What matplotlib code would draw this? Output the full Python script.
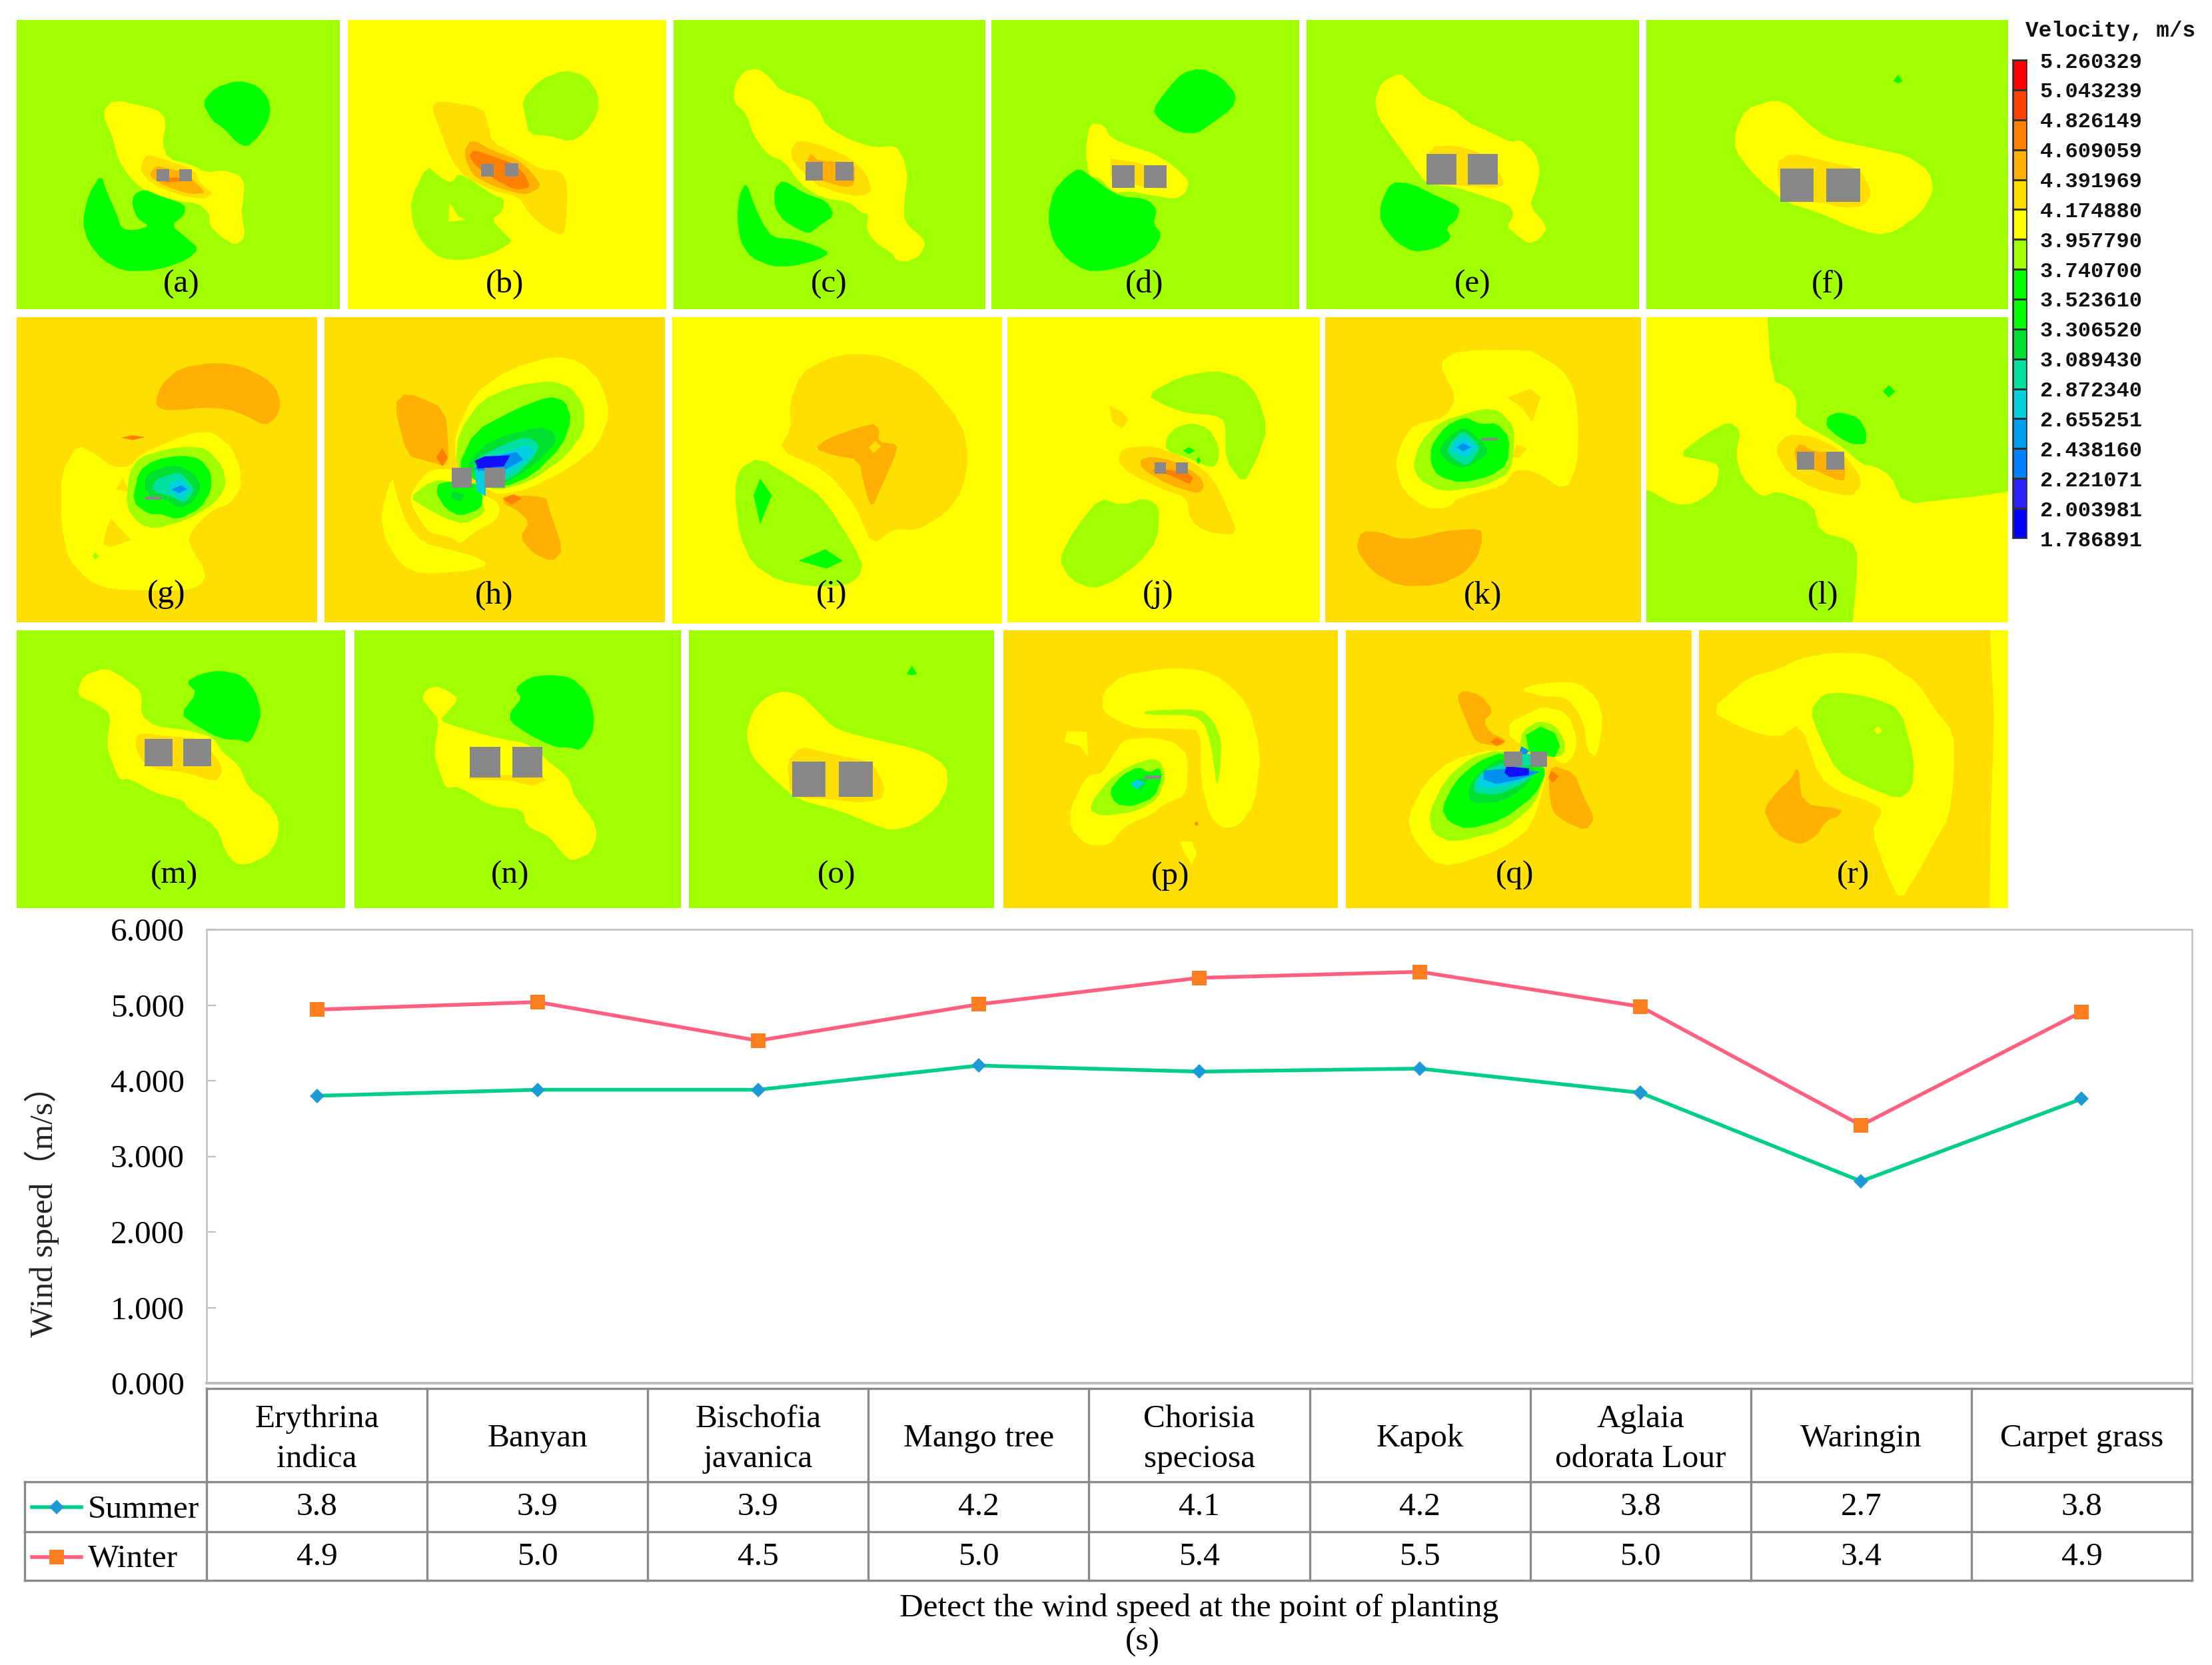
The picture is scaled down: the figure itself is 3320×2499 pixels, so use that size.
import numpy as np
import matplotlib
matplotlib.use("Agg")
import matplotlib.pyplot as plt
from matplotlib.colors import ListedColormap, BoundaryNorm
from matplotlib.lines import Line2D
from matplotlib.patches import Polygon, Rectangle

W, H = 3320, 2499
SERIF = ['Liberation Serif', 'Noto Sans CJK SC', 'DejaVu Sans']
TEXT_SIZE = 35.6

# ------------------------- line chart values -------------------------
categories = ['Erythrina\nindica', 'Banyan', 'Bischofia\njavanica', 'Mango tree',
              'Chorisia\nspeciosa', 'Kapok', 'Aglaia\nodorata Lour', 'Waringin', 'Carpet grass']
summer = [3.80, 3.88, 3.88, 4.20, 4.12, 4.16, 3.84, 2.67, 3.76]
winter = [4.94, 5.04, 4.53, 5.01, 5.36, 5.44, 4.98, 3.41, 4.91]
summer_labels = ['3.8', '3.9', '3.9', '4.2', '4.1', '4.2', '3.8', '2.7', '3.8']
winter_labels = ['4.9', '5.0', '4.5', '5.0', '5.4', '5.5', '5.0', '3.4', '4.9']
yticks = [0, 1, 2, 3, 4, 5, 6]

# ------------------------- colour scale -------------------------
levels = [1.786891, 2.003981, 2.221071, 2.438160, 2.655251, 2.872340, 3.089430, 3.306520,
          3.523610, 3.740700, 3.957790, 4.174880, 4.391969, 4.609059, 4.826149, 5.043239, 5.260329]
level_labels = ['%.6f' % v for v in levels]
level_colors = ['#0000FF', '#2C20FF', '#0080FF', '#00A0F0', '#00D0E0', '#00E0A0', '#00E030', '#00FF00',
                '#00FF00', '#A0FF00', '#FFFF00', '#FFDF00', '#FFB000', '#FF8000', '#FF4000', '#FF0000']

L, Y, G, A, O = '#A0FF00', '#FFFF00', '#FFDF00', '#FFB000', '#FF8000'
N, T, C, CY, B, BL = '#00FF00', '#00E030', '#00E0A0', '#00D0E0', '#0090F0', '#1010FF'
GRAY = '#888888'

# ------------------------- contour regions, per panel, panel units -------------------------
PANEL_A = [
 (Y, [(160,447),(220,490),(232,520),(235,570),(230,640),(238,715),(275,745),(290,775),(318,767),(340,790),(347,830),(345,900),(342,950),(348,1065),(335,1105),(315,1070),(297,1015),(297,960),(280,915),(250,905),(205,860),(182,790),(168,720),(160,620),(145,510)]),
 (G, [(208,692),(235,720),(275,765),(285,830),(303,870),(290,897),(255,880),(215,830),(197,760)]),
 (A, [(222,745),(240,760),(262,775),(280,830),(292,868),(270,875),(235,840),(210,790)]),
 (O, [(225,780),(240,800),(255,800),(260,815),(235,822)]),
 (N, [(337,362),(365,385),(380,440),(384,500),(378,560),(365,620),(350,662),(335,640),(320,585),(300,540),(287,460),(305,395)]),
 (N, [(143,785),(152,870),(165,960),(172,1030),(190,1038),(212,1018),(195,985),(187,920),(190,875),(205,852),(225,880),(262,920),(262,965),(243,1015),(262,1065),(282,1120),(265,1170),(235,1205),(210,1220),(175,1220),(145,1170),(125,1090),(117,1000),(125,880)]),
]
BLOCKS_A = [(222,762,240,815),(254,762,272,815)]

PANEL_B = [
 (L, [(800,315),(830,340),(848,420),(848,510),(830,600),(808,638),(780,612),(750,605),(745,530),(740,450),(765,360)]),
 (L, [(605,745),(625,800),(640,825),(650,780),(670,815),(700,880),(715,895),(713,950),(697,990),(715,1050),(727,1088),(700,1140),(660,1172),(625,1165),(600,1100),(585,1010),(582,900)]),
 (Y, [(637,910),(650,975),(660,990),(636,998)]),
 (G, [(620,452),(685,485),(692,560),(698,640),(740,710),(765,760),(795,770),(805,830),(802,1040),(793,1060),(770,1020),(750,960),(735,885),(700,860),(660,800),(640,720),(628,620),(612,490)]),
 (A, [(668,625),(700,680),(735,720),(755,780),(768,840),(745,880),(700,840),(670,790),(657,690)]),
 (O, [(672,675),(695,700),(730,740),(745,790),(752,845),(730,855),(700,805),(675,750),(665,700)]),
]
BLOCKS_B = [(682,738,700,796),(716,735,735,796)]

PANEL_C = [
 (Y, [(1075,308),(1092,350),(1105,405),(1148,450),(1160,490),(1172,570),(1205,630),(1240,665),(1270,655),(1282,720),(1287,800),(1282,900),(1282,1000),(1313,1085),(1305,1150),(1285,1180),(1270,1170),(1265,1140),(1240,1090),(1228,1030),(1232,965),(1220,955),(1205,910),(1165,890),(1135,830),(1112,725),(1090,700),(1070,620),(1058,510),(1040,460),(1042,380),(1055,320)]),
 (G, [(1132,628),(1170,660),(1205,710),(1228,780),(1237,860),(1220,885),(1190,870),(1155,830),(1125,730),(1120,680)]),
 (A, [(1150,690),(1160,725),(1212,730),(1212,830),(1200,845),(1150,800),(1143,730)]),
 (N, [(1058,820),(1070,930),(1082,1010),(1095,1068),(1130,1080),(1160,1110),(1176,1140),(1160,1170),(1125,1198),(1095,1200),(1065,1160),(1050,1090),(1045,980),(1048,880)]),
 (N, [(1110,810),(1140,870),(1172,905),(1183,970),(1160,1020),(1147,1053),(1130,1030),(1110,990),(1098,930),(1098,850)]),
]
BLOCKS_C = [(1142,730,1167,812),(1185,730,1210,812)]

PANEL_D = [
 (N, [(150,307),(180,345),(202,430),(195,490),(165,560),(147,600),(122,597),(95,545),(84,495),(105,400),(125,330)]),
 (Y, [(-4,555),(15,560),(25,620),(55,660),(85,690),(115,750),(135,815),(130,870),(115,897),(85,880),(50,860),(30,870),(10,800),(-5,795),(-10,680)]),
 (N, [(-19,757),(0,800),(20,850),(40,885),(75,895),(90,940),(85,1010),(97,1055),(85,1130),(55,1190),(15,1220),(-9,1220),(-35,1170),(-55,1090),(-63,980),(-55,860),(-35,790)]),
 (G, [(25,715),(60,730),(90,760),(105,850),(70,840),(25,800)]),
]
BLOCKS_D = [(27,744,59,846),(72,744,104,846)]

PANEL_E = [
 (Y, [(430,328),(445,370),(465,440),(505,490),(525,550),(560,600),(585,640),(600,630),(620,690),(627,770),(620,860),(612,925),(638,1025),(625,1080),(610,1097),(595,1060),(580,1020),(590,970),(585,925),(550,885),(505,840),(468,830),(445,730),(425,640),(400,530),(395,450),(405,370)]),
 (G, [(470,660),(510,655),(545,690),(570,780),(578,830),(560,850),(520,835),(470,830)]),
 (N, [(418,820),(445,825),(480,880),(515,930),(510,990),(495,1025),(503,1075),(480,1120),(450,1135),(425,1090),(403,1000),(403,920)]),
]
BLOCKS_E = [(468,692,510,830),(525,692,567,830)]

PANEL_F = [
 (N, [(1128,335),(1134,365),(1128,375),(1122,365)]),
 (Y, [(955,450),(975,470),(1000,550),(1030,625),(1090,665),(1140,700),(1172,770),(1178,860),(1160,960),(1125,1040),(1100,1058),(1060,1020),(1020,960),(970,910),(930,800),(900,680),(900,590),(915,490)]),
 (G, [(980,690),(1020,720),(1075,760),(1092,870),(1080,930),(1050,935),(1020,910),(965,910),(957,730)]),
]
BLOCKS_F = [(963,760,1010,910),(1028,760,1075,910)]

PANEL_G = [
 (A, [(335,222),(375,240),(410,290),(428,340),(435,410),(428,470),(410,507),(380,460),(350,430),(310,425),(280,437),(250,435),(240,405),(250,320),(280,245)]),
 (O, [(188,560),(205,550),(225,558),(205,572)]),
 (Y, [(120,592),(150,640),(175,693),(200,693),(220,630),(295,540),(330,535),(360,610),(372,700),(373,790),(355,860),(330,885),(300,965),(290,1030),(320,1170),(310,1230),(280,1250),(170,1245),(135,1200),(105,1100),(95,950),(95,720)]),
 (G, [(190,740),(200,805),(180,795)]),
 (G, [(172,925),(203,1022),(170,1055),(160,1040),(165,970)]),
 (L, [(147,1075),(153,1095),(147,1110),(143,1095)]),
 (L, [(295,600),(320,610),(345,690),(350,770),(340,830),(320,880),(290,930),(240,972),(215,950),(195,870),(200,720),(215,650),(260,610)]),
 (N, [(280,640),(310,655),(327,720),(327,800),(310,880),(275,930),(250,905),(230,905),(205,850),(215,710),(240,660)]),
 (T, [(275,685),(300,720),(312,780),(300,850),(278,880),(260,845),(225,815),(225,730),(250,695)]),
 (C, [(278,715),(290,750),(302,795),(285,860),(270,830),(235,800),(240,750),(265,725)]),
 (CY, [(280,745),(295,790),(280,840),(260,790),(265,765)]),
 (B, [(280,775),(290,792),(278,810),(265,795)]),
]
BLOCKS_G = [(225,826,250,840)]

PANEL_H = [
 (A, [(630,355),(690,430),(695,640),(690,690),(660,665),(630,640),(610,410)]),
 (O, [(685,608),(693,650),(685,690),(675,650)]),
 (A, [(780,820),(845,825),(850,880),(872,1065),(855,1120),(825,1080),(805,1010),(820,940),(800,885),(780,860)]),
 (O, [(795,815),(808,835),(792,862),(778,835)]),
 (Y, [(860,192),(900,220),(930,310),(945,450),(925,600),(880,700),(820,790),(770,820),(745,770),(705,670),(705,540),(735,360),(790,250)]),
 (L, [(855,305),(885,335),(905,420),(905,530),(875,650),(820,760),(770,800),(740,760),(705,690),(710,540),(745,390),(800,325)]),
 (N, [(850,375),(875,395),(885,480),(870,600),(825,730),(780,785),(740,760),(708,700),(735,530),(800,430)]),
 (T, [(835,510),(860,540),(860,590),(820,700),(780,770),(745,750),(720,680),(760,570)]),
 (C, [(815,555),(835,590),(830,640),(795,740),(770,760),(735,740),(735,660),(780,590)]),
 (CY, [(815,590),(830,625),(800,700),(770,745),(740,720),(745,660),(790,620)]),
 (B, [(800,625),(810,660),(785,700),(760,740),(735,700),(745,660)]),
 (BL, [(790,640),(780,690),(740,700),(735,665),(750,645)]),
 (Y, [(607,730),(615,830),(630,950),(655,1035),(710,1075),(735,1095),(757,1130),(730,1160),(650,1175),(620,1130),(595,1010),(590,900)]),
 (Y, [(665,705),(700,700),(740,800),(775,860),(770,930),(735,985),(712,1040),(700,1010),(665,990),(650,930),(635,850),(640,790)]),
 (L, [(680,750),(700,760),(745,830),(752,900),(720,950),(690,925),(655,870),(635,830),(660,770)]),
 (N, [(680,760),(735,760),(748,815),(745,880),(712,915),(690,880),(675,810)]),
 (T, [(700,800),(720,820),(712,850),(698,830)]),
 (CY, [(735,710),(752,710),(752,825),(738,800)]),
]
BLOCKS_H = [(699,697,730,785),(750,695,782,785)]

PANEL_I = [
 (G, [(1320,180),(1370,195),(1430,280),(1490,500),(1500,650),(1490,800),(1465,900),(1420,978),(1385,970),(1350,1045),(1325,870),(1280,710),(1205,615),(1225,520),(1222,410),(1240,270),(1280,205)]),
 (A, [(1350,495),(1362,520),(1360,580),(1390,590),(1385,650),(1365,780),(1350,878),(1340,800),(1330,660),(1290,640),(1262,610),(1280,565)]),
 (G, [(1355,575),(1364,600),(1352,630),(1345,605)]),
 (L, [(1175,650),(1230,745),(1275,830),(1337,1120),(1330,1190),(1310,1225),(1260,1232),(1205,1205),(1165,1130),(1145,1000),(1137,800),(1145,700)]),
 (N, [(1177,745),(1195,820),(1177,950),(1167,820)]),
 (N, [(1278,1063),(1305,1115),(1280,1150),(1237,1115)]),
]
BLOCKS_I = []

PANEL_J = [
 (L, [(335,258),(375,290),(400,370),(415,520),(400,650),(378,770),(350,660),(350,490),(335,460),(290,450),(260,420),(227,370),(280,285)]),
 (L, [(300,495),(325,520),(340,600),(340,660),(330,700),(290,650),(258,620),(258,560),(275,510)]),
 (N, [(293,603),(303,620),(293,635),(285,620)]),
 (N, [(308,645),(312,665),(308,680),(305,665)]),
 (G, [(170,415),(190,445),(200,480),(190,520),(175,490)]),
 (G, [(215,600),(240,600),(280,640),(320,710),(340,790),(350,860),(367,970),(360,1000),(320,985),(295,930),(290,830),(250,790),(200,720),(183,665),(190,610)]),
 (A, [(235,645),(270,665),(310,730),(318,780),(308,815),(260,770),(220,700),(218,660)]),
 (O, [(240,700),(290,715),(300,740),(295,770),(260,725),(238,715)]),
 (L, [(155,832),(190,865),(225,832),(248,870),(245,1020),(215,1130),(175,1210),(145,1242),(110,1200),(92,1110),(115,980)]),
]
BLOCKS_J = [(240,672,258,722),(273,672,292,722)]

PANEL_K = [
 (A, [(560,983),(590,985),(610,1010),(640,1018),(690,980),(745,970),(748,1020),(740,1100),(720,1170),(680,1225),(620,1230),(580,1170),(560,1100),(553,1050)]),
 (Y, [(710,168),(820,165),(835,190),(870,250),(890,340),(897,500),(895,680),(877,800),(828,710),(797,705),(780,780),(710,830),(695,878),(660,878),(625,800),(612,680),(625,570),(640,505),(690,470),(708,380),(680,225)]),
 (G, [(822,340),(838,380),(825,490),(810,430),(787,380)]),
 (G, [(800,590),(817,610),(805,650),(795,650)]),
 (L, [(750,428),(775,440),(797,510),(797,620),(790,720),(750,780),(685,805),(650,750),(640,690),(650,590),(680,490)]),
 (N, [(720,467),(745,500),(770,495),(790,560),(787,680),(760,735),(715,765),(680,735),(668,680),(668,600),(690,510)]),
 (T, [(718,510),(740,560),(755,600),(755,640),(720,700),(700,680),(680,630),(690,570)]),
 (C, [(718,530),(735,570),(745,610),(725,690),(705,660),(692,620),(702,570)]),
 (CY, [(720,555),(740,605),(722,650),(700,620),(705,580)]),
 (B, [(718,585),(730,605),(718,622),(708,605)]),
]
BLOCKS_K = [(746,562,772,574)]

PANEL_L = [
 (L, [(1185,-200),(1800,-200),(1800,700),(1525,820),(1480,835),(1400,860),(1380,730),(1355,690),(1335,680),(1300,590),(1232,480),(1235,400),(1225,340),(1195,300)]),
 (L, [(900,700),(1002,790),(1045,862),(1075,860),(1110,790),(1115,685),(1095,665),(1050,640),(1095,540),(1130,488),(1148,530),(1140,640),(1150,740),(1180,830),(1205,800),(1260,860),(1270,985),(1320,1025),(1330,1100),(1315,1600),(900,1600)]),
 (N, [(1377,325),(1387,352),(1377,380),(1368,352)]),
 (N, [(1300,445),(1330,470),(1342,530),(1342,590),(1320,590),(1300,560),(1280,510),(1282,465)]),
 (G, [(1220,545),(1260,555),(1300,610),(1330,720),(1335,770),(1320,828),(1260,790),(1220,720),(1200,610)]),
 (A, [(1240,585),(1262,625),(1308,625),(1310,750),(1300,755),(1262,705),(1235,680),(1230,620)]),
]
BLOCKS_L = [(1235,625,1262,705),(1280,625,1308,705)]

PANEL_M = [
 (N, [(340,198),(375,220),(395,290),(405,390),(395,480),(385,525),(370,510),(350,510),(330,490),(300,440),(280,395),(305,300),(288,250),(310,215)]),
 (Y, [(165,187),(190,230),(220,295),(218,400),(240,450),(295,470),(330,500),(345,570),(370,625),(385,730),(415,790),(432,870),(430,960),(415,1030),(385,1072),(365,1070),(350,1020),(335,900),(290,820),(285,785),(240,750),(200,685),(185,692),(172,600),(165,530),(172,395),(150,350),(125,320),(120,290),(130,220)]),
 (G, [(218,478),(260,495),(310,505),(340,610),(345,660),(332,700),(290,660),(235,640),(215,590),(208,510)]),
]
BLOCKS_M = [(224,507,267,630),(284,507,327,630)]

PANEL_N = [
 (N, [(850,218),(885,230),(910,300),(920,400),(918,480),(900,558),(880,545),(860,545),(820,490),(790,430),(790,385),(808,325),(797,280),(820,230)]),
 (Y, [(675,270),(690,285),(710,325),(695,380),(680,425),(710,455),(765,500),(820,530),(850,610),(880,680),(890,770),(918,870),(925,940),(915,1020),(885,1058),(870,1020),(850,945),(815,900),(810,825),(760,810),(710,720),(690,730),(680,650),(672,570),(680,420),(665,370),(653,325),(660,285)]),
 (G, [(727,670),(840,670),(845,695),(825,718),(790,695),(727,690)]),
]
BLOCKS_N = [(727,543,775,680),(793,543,840,680)]

PANEL_O = [
 (N, [(1412,178),(1420,215),(1412,220),(1404,215)]),
 (Y, [(1215,292),(1240,310),(1265,380),(1290,455),(1325,490),(1430,560),(1465,630),(1468,720),(1450,820),(1415,895),(1380,920),(1350,890),(1300,830),(1235,780),(1195,680),(1165,590),(1155,490),(1165,380),(1190,310)]),
 (G, [(1240,540),(1280,570),(1350,610),(1370,720),(1365,780),(1330,795),(1290,780),(1225,770),(1218,610)]),
]
BLOCKS_O = [(1227,608,1278,768),(1299,608,1351,768)]

PANEL_P = [
 (Y, [(260,188),(310,195),(345,235),(385,350),(405,570),(395,800),(370,900),(345,910),(325,850),(312,700),(312,470),(280,460),(215,460),(190,435),(160,385),(160,300),(190,220)]),
 (Y, [(105,472),(135,475),(138,590),(125,540),(100,520)]),
 (Y, [(195,510),(235,500),(270,520),(292,580),(290,760),(255,800),(235,850),(200,890),(185,930),(170,985),(135,985),(110,910),(110,820),(130,700),(140,670),(160,660),(185,540)]),
 (Y, [(280,970),(298,968),(305,1020),(298,1075),(285,1010)]),
 (L, [(225,380),(310,372),(330,420),(344,510),(342,640),(337,730),(328,540),(318,440),(300,400),(225,398)]),
 (L, [(235,595),(250,610),(258,680),(245,780),(210,835),(160,855),(140,830),(145,780),(170,690),(200,630)]),
 (N, [(215,632),(232,660),(248,635),(252,680),(240,770),(205,812),(180,800),(170,740),(190,670)]),
 (T, [(215,680),(230,690),(220,740),(205,720)]),
 (CY, [(212,690),(225,705),(212,735),(203,710)]),
 (O, [(305,878),(308,890),(305,900),(302,890)]),
]
BLOCKS_P = [(225,672,250,686)]

PANEL_Q = [
 (A, [(718,288),(745,310),(765,378),(750,430),(760,480),(785,510),(778,540),(738,525),(725,440),(708,320)]),
 (O, [(770,500),(782,520),(770,540),(760,520)]),
 (A, [(855,625),(890,660),(905,770),(922,865),(908,920),(875,880),(855,830),(850,700)]),
 (O, [(855,650),(866,675),(857,705),(850,680)]),
 (Y, [(805,285),(840,255),(895,250),(925,320),(935,420),(925,590),(910,560),(905,430),(880,320),(840,315)]),
 (Y, [(840,360),(880,390),(895,510),(890,580),(875,625),(850,575),(790,510),(790,430),(825,385)]),
 (L, [(835,425),(860,445),(875,510),(875,580),(850,590),(805,550),(810,470)]),
 (N, [(838,452),(860,480),(868,540),(860,590),(820,565),(815,490)]),
 (Y, [(770,550),(820,590),(850,640),(825,900),(780,1000),(700,1080),(670,1060),(640,950),(632,860),(660,700),(700,600)]),
 (L, [(775,555),(825,600),(848,640),(830,800),(780,920),(700,975),(670,930),(665,840),(690,690),(730,590)]),
 (N, [(780,565),(830,610),(848,650),(830,760),(780,870),(725,915),(695,880),(685,820),(705,700),(740,610)]),
 (T, [(780,590),(830,630),(820,710),(780,790),(730,800),(725,730),(745,650)]),
 (C, [(785,610),(830,660),(810,710),(770,760),(735,750),(735,700),(750,650)]),
 (CY, [(790,625),(830,665),(805,700),(765,730),(740,725),(745,670)]),
 (B, [(785,640),(838,655),(805,690),(770,710),(750,690),(750,650)]),
 (BL, [(785,630),(820,640),(820,670),(790,680),(782,660)]),
 (B, [(808,540),(820,560),(815,580),(805,570)]),
 (C, [(808,575),(824,575),(824,625),(808,635)]),
]
BLOCKS_Q = [(781,563,810,633),(822,563,848,633)]

PANEL_R = [
 (Y, [(1530,-200),(1800,-200),(1800,1500),(1532,1500),(1535,900),(1540,400)]),
 (Y, [(1285,120),(1340,122),(1372,150),(1392,200),(1415,240),(1430,290),(1450,380),(1478,480),(1478,680),(1470,860),(1450,960),(1420,1120),(1395,1235),(1375,1120),(1350,920),(1370,825),(1340,780),(1300,745),(1270,680),(1240,435),(1205,505),(1150,460),(1100,378),(1160,230),(1205,195),(1240,145)]),
 (L, [(1275,305),(1305,298),(1350,320),(1395,370),(1417,600),(1413,735),(1392,778),(1340,720),(1297,655),(1270,500),(1255,380)]),
 (Y, [(1360,450),(1367,470),(1360,487),(1354,470)]),
 (A, [(1237,625),(1243,800),(1305,822),(1300,855),(1280,875),(1265,945),(1240,985),(1210,950),(1195,900),(1183,825),(1205,740),(1225,690)]),
]
BLOCKS_R = []

# panel units map onto the sheet through (origin x, origin y, scale x, scale y)
ROW1_L = (0, 0, 0.9446, 3.0)
ROW1_R = (1640, 0, 0.9333, 3.0)
ROW2_L = (0, 470, 1.0316, 3.0)
ROW2_R = (1500, 470, 1.0316, 3.0)
ROW3_L = (0, 940, 1.0316, 3.0)
ROW3_R = (1500, 940, 1.0316, 3.0)

# label, background, regions, blocks, x0, x1, y0, y1, map, label_x, label_y
PANELS = [
 ('(a)', L, PANEL_A, BLOCKS_A, 24, 482, 90, 1392, ROW1_L, 257, 1280),
 ('(b)', Y, PANEL_B, BLOCKS_B, 493, 945, 90, 1392, ROW1_L, 716, 1280),
 ('(c)', L, PANEL_C, BLOCKS_C, 955, 1397, 90, 1392, ROW1_L, 1175, 1280),
 ('(d)', L, PANEL_D, BLOCKS_D, -142, 289, 90, 1392, ROW1_R, 72, 1280),
 ('(e)', L, PANEL_E, BLOCKS_E, 300, 765, 90, 1392, ROW1_R, 532, 1280),
 ('(f)', L, PANEL_F, BLOCKS_F, 776, 1282, 90, 1392, ROW1_R, 1030, 1280),
 ('(g)', G, PANEL_G, BLOCKS_G, 26, 491, 18, 1393, ROW2_L, 257, 1270),
 ('(h)', G, PANEL_H, BLOCKS_H, 502, 1030, 18, 1393, ROW2_L, 765, 1270),
 ('(i)', Y, PANEL_I, BLOCKS_I, 1041, 1552, 18, 1398, ROW2_L, 1288, 1270),
 ('(j)', Y, PANEL_J, BLOCKS_J, 12, 496, 18, 1393, ROW2_R, 246, 1270),
 ('(k)', G, PANEL_K, BLOCKS_K, 504, 993, 18, 1393, ROW2_R, 748, 1270),
 ('(l)', Y, PANEL_L, BLOCKS_L, 1002, 1562, 18, 1393, ROW2_R, 1275, 1270),
 ('(m)', L, PANEL_M, BLOCKS_M, 26, 534, 18, 1268, ROW3_L, 270, 1122),
 ('(n)', L, PANEL_N, BLOCKS_N, 549, 1054, 18, 1268, ROW3_L, 790, 1122),
 ('(o)', L, PANEL_O, BLOCKS_O, 1067, 1539, 18, 1268, ROW3_L, 1295, 1122),
 ('(p)', G, PANEL_P, BLOCKS_P, 6, 524, 18, 1268, ROW3_R, 265, 1128),
 ('(q)', G, PANEL_Q, BLOCKS_Q, 536, 1072, 18, 1268, ROW3_R, 798, 1122),
 ('(r)', G, PANEL_R, BLOCKS_R, 1083, 1562, 18, 1268, ROW3_R, 1322, 1122),
]


def rounded(points):
    """Corner-cut a closed outline once; tiny outlines keep their sharp corners."""
    p = np.asarray(points, float)
    if len(p) <= 6:
        return p
    q = np.roll(p, -1, axis=0)
    return np.column_stack([0.8 * p + 0.2 * q, 0.2 * p + 0.8 * q]).reshape(-1, 2)


def add_axes_px(fig, x0, y0, x1, y1):
    return fig.add_axes([x0 / W, 1 - y1 / H, (x1 - x0) / W, (y1 - y0) / H])


fig = plt.figure(figsize=(W / 100, H / 100), dpi=100, facecolor='white')

for label, bg, regions, blocks, x0, x1, y0, y1, (ox, oy, sx, sy), lx, ly in PANELS:
    ax = add_axes_px(fig, ox + x0 / sx, oy + y0 / sy, ox + x1 / sx, oy + y1 / sy)
    ax.set_xlim(x0, x1)
    ax.set_ylim(y1, y0)
    ax.axis('off')
    ax.add_patch(Rectangle((x0, y0), x1 - x0, y1 - y0, fc=bg, ec='none', zorder=0))
    for i, (colour, pts) in enumerate(regions):
        ax.add_patch(Polygon(rounded(pts), closed=True, fc=colour, ec='none', zorder=1 + i * 0.01))
    for a, b, c, d in blocks:
        ax.add_patch(Rectangle((a, b), c - a, d - b, fc=GRAY, ec='none', zorder=3))
    ax.text(lx, ly, label, ha='center', va='center', family=SERIF, fontsize=TEXT_SIZE, color='black', zorder=4)

# ------------------------- colour bar -------------------------
cax = add_axes_px(fig, 3021, 90, 3042, 808)
cmap = ListedColormap(level_colors)
cax.pcolormesh([0, 1], levels, np.arange(16).reshape(-1, 1), cmap=cmap,
               norm=BoundaryNorm(np.arange(-0.5, 16.5), 16), edgecolors='#303030', linewidth=1.0)
cax.set_xticks([])
cax.set_yticks(levels, level_labels, family='Liberation Mono', fontweight='bold', fontsize=23)
cax.yaxis.tick_right()
cax.tick_params(axis='y', length=0, pad=14, labelcolor='#111111')
for s in cax.spines.values():
    s.set_color('#303030')
    s.set_linewidth(1.2)
fig.text(3040 / W, 1 - 46 / H, 'Velocity, m/s', family='Liberation Mono', fontweight='bold',
         fontsize=23.5, ha='left', va='center', color='#111111')

# ------------------------- line chart -------------------------
chart = add_axes_px(fig, 310, 1395, 3290, 2076)
xs = np.arange(len(categories))
chart.set_xlim(-0.5, len(categories) - 0.5)
chart.set_ylim(0, 6)
SUMMER_LINE, SUMMER_MARK = '#00CC8C', '#1E9BD7'
WINTER_LINE, WINTER_MARK = '#FF6080', '#FF7F20'
chart.plot(xs, summer, color=SUMMER_LINE, lw=4, marker='D', ms=11, mfc=SUMMER_MARK, mec=SUMMER_MARK, mew=0)
chart.plot(xs, winter, color=WINTER_LINE, lw=4, marker='s', ms=15.5, mfc=WINTER_MARK, mec=WINTER_MARK, mew=0)
chart.set_xticks([])
chart.set_yticks(yticks, ['%.3f' % v for v in yticks], family=SERIF, fontsize=TEXT_SIZE)
chart.tick_params(axis='y', direction='in', length=10, width=1.6, color='#BFBFBF', pad=24)
for s in chart.spines.values():
    s.set_color('#BFBFBF')
    s.set_linewidth(1.8)
chart.spines['bottom'].set_linewidth(2.8)
fig.text(63 / W, 1 - 1806 / H, 'Wind speed（m/s）', rotation=90, family=SERIF, fontsize=TEXT_SIZE,
         ha='center', va='center', color='#222222')

# ------------------------- data table under the chart -------------------------
tb = fig.add_axes([0, 0, 1, 1], facecolor='none')
tb.set_xlim(0, W)
tb.set_ylim(H, 0)
tb.axis('off')
TABLE_LINE = '#8A8A8A'
ROWS_Y = [2084, 2224, 2299, 2372]
COLUMN_LEFT, COLUMN0, CELL = 37, 310, 2980 / 9
tb.plot([COLUMN0, 3290], [ROWS_Y[0]] * 2, color=TABLE_LINE, lw=2.4)
for ry in ROWS_Y[1:]:
    tb.plot([COLUMN_LEFT, 3290], [ry] * 2, color=TABLE_LINE, lw=2.4)
tb.plot([COLUMN_LEFT] * 2, [ROWS_Y[1], ROWS_Y[3]], color=TABLE_LINE, lw=2.4)
for i in range(len(categories) + 1):
    xx = COLUMN0 + i * CELL
    tb.plot([xx, xx], [ROWS_Y[0], ROWS_Y[3]], color=TABLE_LINE, lw=2.4)
for i, name in enumerate(categories):
    cx = COLUMN0 + (i + 0.5) * CELL
    if '\n' in name:
        top, bottom = name.split('\n')
        tb.text(cx, 2130, top, ha='center', va='center', family=SERIF, fontsize=TEXT_SIZE)
        tb.text(cx, 2190, bottom, ha='center', va='center', family=SERIF, fontsize=TEXT_SIZE)
    else:
        tb.text(cx, 2159, name, ha='center', va='center', family=SERIF, fontsize=TEXT_SIZE)
    tb.text(cx, 2262, summer_labels[i], ha='center', va='center', family=SERIF, fontsize=TEXT_SIZE)
    tb.text(cx, 2337, winter_labels[i], ha='center', va='center', family=SERIF, fontsize=TEXT_SIZE)
tb.add_line(Line2D([48, 122], [2262, 2262], color=SUMMER_LINE, lw=4))
tb.add_line(Line2D([85], [2262], marker='D', ms=11, mfc=SUMMER_MARK, mew=0, ls='none'))
tb.add_line(Line2D([48, 122], [2337, 2337], color=WINTER_LINE, lw=4))
tb.add_line(Line2D([85], [2337], marker='s', ms=15.5, mfc=WINTER_MARK, mew=0, ls='none'))
tb.text(132, 2266, 'Summer', ha='left', va='center', family=SERIF, fontsize=TEXT_SIZE)
tb.text(132, 2339, 'Winter', ha='left', va='center', family=SERIF, fontsize=TEXT_SIZE)
tb.text(1800, 2414, 'Detect the wind speed at the point of planting', ha='center', va='center', family=SERIF, fontsize=TEXT_SIZE)
tb.text(1715, 2465, '(s)', ha='center', va='center', family=SERIF, fontsize=TEXT_SIZE)

fig.savefig('out.png', dpi=100, facecolor='white')
